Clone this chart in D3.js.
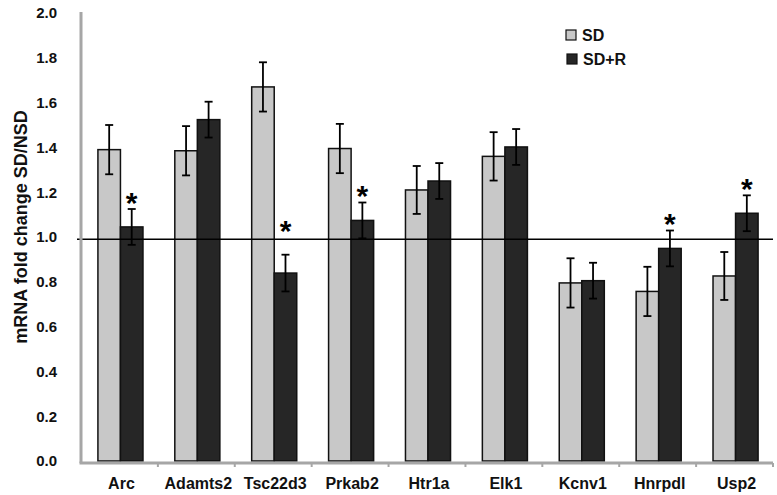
<!DOCTYPE html>
<html>
<head>
<meta charset="utf-8">
<script src="https://cdn.jsdelivr.net/npm/d3@7"></script>
<style>
  html, body { margin: 0; padding: 0; background: #fff; }
  svg { display: block; font-family: "Liberation Sans", Arial, sans-serif; }
</style>
</head>
<body>
<svg id="chart" width="777" height="495"></svg>
<script>
const genes = ["Arc", "Adamts2", "Tsc22d3", "Prkab2", "Htr1a", "Elk1", "Kcnv1", "Hnrpdl", "Usp2"];
const seriesNames = ["SD", "SD+R"];
const sdValues = [1.39, 1.385, 1.67, 1.395, 1.21, 1.36, 0.795, 0.757, 0.826];
const sdErrors = [0.11, 0.11, 0.11, 0.11, 0.107, 0.108, 0.11, 0.11, 0.107];
const sdrValues = [1.045, 1.524, 0.839, 1.074, 1.25, 1.402, 0.805, 0.949, 1.106];
const sdrErrors = [0.08, 0.08, 0.082, 0.08, 0.08, 0.08, 0.08, 0.08, 0.08];
const significant = [true, false, true, true, false, false, false, true, true];
const yTicks = [0, 0.2, 0.4, 0.6, 0.8, 1.0, 1.2, 1.4, 1.6, 1.8, 2.0];
const refValue = 0.99;

const colors = { "SD": "#c8c8c8", "SD+R": "#262626" };

(function () {
const svg = d3.select("#chart");
const mLeft = 81, mRight = 773, mTop = 13, mBottom = 461;

const x = d3.scaleBand().domain(genes).range([mLeft, mRight]).paddingInner(0).paddingOuter(0);
const y = d3.scaleLinear().domain([0, 2]).range([mBottom, mTop]);
const barW = x.bandwidth() * 0.293;
const sub = d3.scaleBand().domain(seriesNames).range([0, barW * 2]);
const pairOff = (x.bandwidth() - barW * 2) / 2 + 1;

const rows = [];
genes.forEach((g, i) => {
  rows.push({ gene: g, s: "SD", v: sdValues[i], e: sdErrors[i], sig: false });
  rows.push({ gene: g, s: "SD+R", v: sdrValues[i], e: sdrErrors[i], sig: significant[i] });
});

// bars
svg.append("g").selectAll("rect").data(rows).join("rect")
  .attr("x", d => x(d.gene) + pairOff + sub(d.s))
  .attr("y", d => y(d.v))
  .attr("width", sub.bandwidth())
  .attr("height", d => y(0) - y(d.v))
  .attr("fill", d => colors[d.s])
  .attr("stroke", "#111")
  .attr("stroke-width", 1.5);

// reference line
svg.append("line")
  .attr("x1", mLeft - 4).attr("x2", mRight)
  .attr("y1", y(refValue)).attr("y2", y(refValue))
  .attr("stroke", "#000").attr("stroke-width", 1.6);

// error bars
const eg = svg.append("g").attr("stroke", "#000").attr("stroke-width", 1.8).attr("fill", "none");
rows.forEach(d => {
  const cx = x(d.gene) + pairOff + sub(d.s) + sub.bandwidth() / 2;
  const y1 = y(d.v + d.e), y2 = y(d.v - d.e);
  eg.append("line").attr("x1", cx).attr("x2", cx).attr("y1", y1).attr("y2", y2);
  eg.append("line").attr("x1", cx - 4).attr("x2", cx + 4).attr("y1", y1).attr("y2", y1);
  eg.append("line").attr("x1", cx - 4).attr("x2", cx + 4).attr("y1", y2).attr("y2", y2);
});

// asterisks
svg.append("g").selectAll("text").data(rows.filter(d => d.sig)).join("text")
  .attr("x", d => x(d.gene) + pairOff + sub(d.s) + sub.bandwidth() / 2)
  .attr("y", d => Math.min(y(d.v + d.e), y(1.0)) + 3.5)
  .attr("text-anchor", "middle")
  .attr("font-size", 30).attr("font-weight", "bold")
  .attr("fill", "#000")
  .text("*");

// y axis
const yAxis = svg.append("g").attr("transform", `translate(${mLeft},0)`)
  .call(d3.axisLeft(y).tickValues(yTicks).tickFormat(d3.format(".1f")).tickSize(0).tickPadding(24));
yAxis.select(".domain").attr("stroke", "#a6a6a6").attr("stroke-width", 3)
  .attr("d", `M0,${mTop - 1}V${mBottom + 2}`);
yAxis.selectAll("text").attr("font-size", 15).attr("font-weight", "bold")
  .attr("fill", "#111").attr("font-family", "Liberation Sans, Arial, sans-serif");

// x axis
const xAxis = svg.append("g").attr("transform", `translate(0,${mBottom + 2})`)
  .call(d3.axisBottom(x).tickSize(0).tickPadding(15));
xAxis.select(".domain").attr("stroke", "#a6a6a6").attr("stroke-width", 3)
  .attr("d", `M${mLeft - 1.5},0H${mRight}`);
xAxis.selectAll("text").attr("font-size", 16).attr("font-weight", "bold")
  .attr("fill", "#111").attr("font-family", "Liberation Sans, Arial, sans-serif")
  .attr("dx", 2);
// band boundary ticks
const bounds = genes.slice(1).map(g => x(g)).concat([mRight]);
xAxis.append("g").selectAll("line").data(bounds).join("line")
  .attr("x1", d => d).attr("x2", d => d).attr("y1", 0).attr("y2", 4)
  .attr("stroke", "#a6a6a6").attr("stroke-width", 2);

// y label
svg.append("text")
  .attr("transform", `translate(27,${227}) rotate(-90)`)
  .attr("text-anchor", "middle")
  .attr("font-size", 18).attr("font-weight", "bold").attr("fill", "#111")
  .text("mRNA fold change SD/NSD");

// legend
const lg = svg.append("g");
seriesNames.forEach((s, i) => {
  const ly = 35 + i * 24;
  lg.append("rect").attr("x", 566 + i).attr("y", ly - 5).attr("width", 10).attr("height", 10)
    .attr("fill", colors[s]).attr("stroke", "#111").attr("stroke-width", 1.2);
  lg.append("text").attr("x", 582 + i).attr("y", ly + 6)
    .attr("font-size", 16).attr("font-weight", "bold").attr("fill", "#111").text(s);
});
})();
</script>
</body>
</html>
